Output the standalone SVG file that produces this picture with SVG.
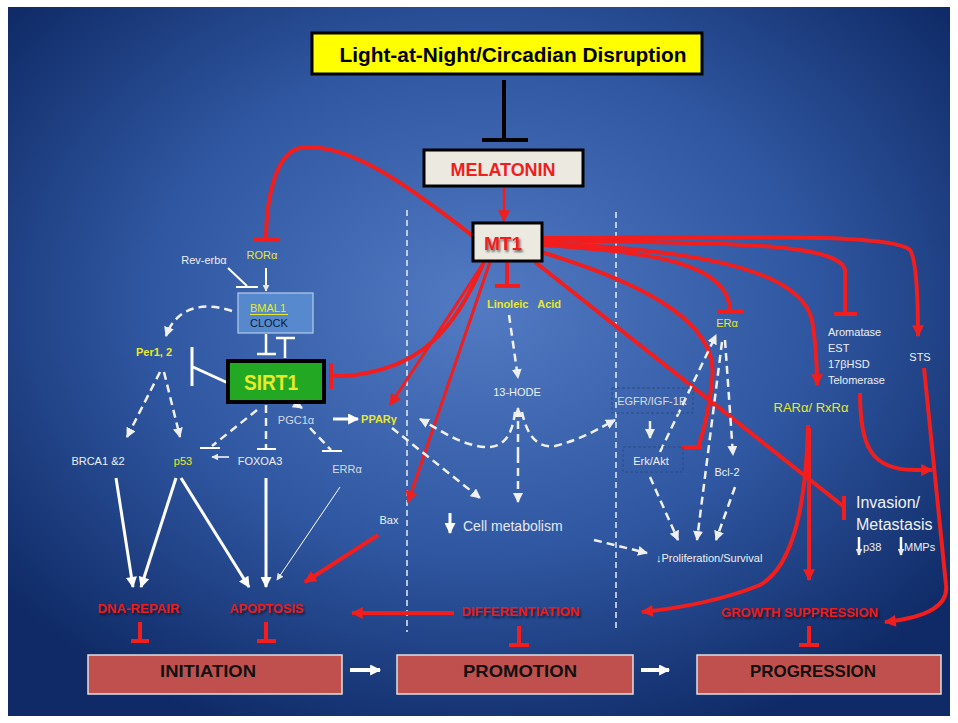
<svg xmlns="http://www.w3.org/2000/svg" width="958" height="723" viewBox="0 0 958 723">
<defs>
<radialGradient id="bg" cx="50%" cy="42%" r="65%">
<stop offset="0" stop-color="#527bc4"/>
<stop offset="0.55" stop-color="#2f56a0"/>
<stop offset="1" stop-color="#0f2a66"/>
</radialGradient>
<marker id="ar" viewBox="0 0 10 10" refX="9" refY="5" markerWidth="13" markerHeight="12" markerUnits="userSpaceOnUse" orient="auto"><path d="M0,0 L10,5 L0,10 z" fill="#f21d1d"/></marker>
<marker id="aw" viewBox="0 0 10 10" refX="9" refY="5" markerWidth="12" markerHeight="11" markerUnits="userSpaceOnUse" orient="auto"><path d="M0,0 L10,5 L0,10 z" fill="#ffffff"/></marker>
<marker id="awd" viewBox="0 0 10 10" refX="9" refY="5" markerWidth="10" markerHeight="10" markerUnits="userSpaceOnUse" orient="auto"><path d="M0,0 L10,5 L0,10 z" fill="#f0f0f0"/></marker>
<marker id="aws" viewBox="0 0 10 10" refX="9" refY="5" markerWidth="7" markerHeight="7" markerUnits="userSpaceOnUse" orient="auto"><path d="M0,0 L10,5 L0,10 z" fill="#e8e8e8"/></marker>
<filter id="sh" x="-10%" y="-30%" width="130%" height="180%"><feDropShadow dx="1.5" dy="2" stdDeviation="1.2" flood-color="#000" flood-opacity="0.6"/></filter>
<style>
.r{fill:none;stroke:#f21d1d;stroke-width:4}
.rt{fill:none;stroke:#f21d1d;stroke-width:3}
.tb{stroke:#f21d1d;stroke-width:4}
.w{fill:none;stroke:#ffffff;stroke-width:3}
.wt{fill:none;stroke:#ffffff;stroke-width:2}
.wd{fill:none;stroke:#f0f0f0;stroke-width:2.5;stroke-dasharray:8 5}
.sep{fill:none;stroke:#e6ecf6;stroke-width:1.5;stroke-dasharray:6 4}
.dbox{fill:none;stroke:#2b4c85;stroke-width:1;stroke-dasharray:3 2}
.t{font-family:"Liberation Sans",Arial,sans-serif}
.sm{font-size:11px;fill:#eef0f4}
.gy{font-size:11px;fill:#d6dbe6}
.yl{font-size:11px;fill:#e8e82a}
.yb{font-size:11px;fill:#e8e82a;font-weight:bold}
.lbl{font-size:13px;fill:#f21d1d;font-weight:bold}
.stage{fill:#c0504d;stroke:#e0e0e0;stroke-width:1.5}
.st{font-size:17px;font-weight:bold;fill:#111}
</style>
</defs>
<rect x="0" y="0" width="958" height="723" fill="#ffffff"/>
<rect x="8" y="7" width="942" height="709" fill="url(#bg)"/>

<g id="separators">
<line class="sep" x1="407" y1="210" x2="407" y2="632"/>
<line class="sep" x1="616" y1="212" x2="616" y2="632"/>
</g>

<g id="connectors">
<line x1="504" y1="80" x2="504" y2="140" stroke="#000" stroke-width="4"/>
<line x1="482" y1="140" x2="528" y2="140" stroke="#000" stroke-width="4"/>
<path class="rt" d="M504 188 L504 221" marker-end="url(#ar)" style="stroke-width:2.5"/>
<path class="r" d="M473 236 C420 195 350 140 300 148 C275 153 266 200 266 240"/>
<line class="tb" x1="253" y1="240" x2="280" y2="240"/>
<path class="r" d="M484 262 C455 330 420 370 345 376 L331 376"/>
<line class="tb" x1="331" y1="363" x2="331" y2="389"/>
<path class="rt" d="M484 262 Q440 330 390 405" marker-end="url(#ar)"/>
<path class="rt" d="M490 262 L408 502" marker-end="url(#ar)"/>
<path class="r" d="M507 262 L507 286"/>
<line class="tb" x1="495" y1="286" x2="520" y2="286"/>
<path class="r" d="M541 245 C660 252 728 265 730 310"/>
<line class="tb" x1="717" y1="311" x2="743" y2="311"/>
<path class="r" d="M541 240 C700 244 838 240 845 270 L845 314"/>
<line class="tb" x1="834" y1="314" x2="857" y2="314"/>
<path class="r" d="M541 238 C720 238 890 232 910 250 Q918 262 918 336" marker-end="url(#ar)"/>
<path class="r" d="M541 243 C700 250 800 270 812 320 Q817 350 817 385" marker-end="url(#ar)"/>
<path class="r" d="M541 252 C650 285 720 325 712 380 Q708 420 698 447"/>
<line class="tb" x1="682" y1="447" x2="702" y2="447"/>
<path class="r" d="M535 262 L843 506"/>
<line class="tb" x1="844" y1="496" x2="844" y2="520"/>
<path class="r" d="M378 535 L305 582" marker-end="url(#ar)"/>
<path class="r" d="M454 613 L352 613" marker-end="url(#ar)"/>
<path class="r" d="M808 425 C806 500 795 565 760 585 Q710 605 642 612" marker-end="url(#ar)"/>
<path class="r" d="M809 428 L809 580" marker-end="url(#ar)"/>
<path class="r" d="M860 393 C860 445 870 470 915 470 L932 470" marker-end="url(#ar)"/>
<path class="r" d="M924 368 L946 585 Q950 615 885 622" marker-end="url(#ar)"/>
<line class="tb" x1="140" y1="622" x2="140" y2="641"/><line class="tb" x1="131" y1="641" x2="149" y2="641"/>
<line class="tb" x1="266" y1="622" x2="266" y2="641"/><line class="tb" x1="257" y1="641" x2="276" y2="641"/>
<line class="tb" x1="519" y1="626" x2="519" y2="645"/><line class="tb" x1="509" y1="645" x2="529" y2="645"/>
<line class="tb" x1="809" y1="626" x2="809" y2="645"/><line class="tb" x1="799" y1="645" x2="819" y2="645"/>

<path class="wt" d="M266 268 L266 291" marker-end="url(#aws)"/>
<path class="wt" d="M228 268 L247 286"/><line class="wt" x1="236" y1="287" x2="258" y2="287"/>
<line class="w" x1="266" y1="334" x2="266" y2="354" style="stroke-width:2.5"/><line class="w" x1="257" y1="354" x2="276" y2="354" style="stroke-width:2.5"/>
<line class="w" x1="285" y1="338" x2="285" y2="358" style="stroke-width:2.5"/><line class="w" x1="276" y1="338" x2="295" y2="338" style="stroke-width:2.5"/>
<line class="w" x1="228" y1="383" x2="193" y2="367"/><line class="w" x1="192" y1="347" x2="192" y2="386"/>
<path class="w" d="M333 419 L358 419" marker-end="url(#aw)"/>
<path class="wt" d="M229 457 L212 457" marker-end="url(#aws)" style="stroke-width:1.5"/>
<path class="wt" d="M340 487 L277 580" marker-end="url(#aws)" style="stroke-width:1"/>
<path class="w" d="M116 478 L133 587" marker-end="url(#aw)"/>
<path class="w" d="M176 478 L141 587" marker-end="url(#aw)"/>
<path class="w" d="M181 478 L249 587" marker-end="url(#aw)"/>
<path class="w" d="M266 478 L266 587" marker-end="url(#aw)"/>
<path class="w" d="M450 513 L450 533" marker-end="url(#aw)"/>
<path class="w" d="M859 537 L859 555" marker-end="url(#aws)" style="stroke-width:2.5"/>
<path class="w" d="M901 537 L901 555" marker-end="url(#aws)" style="stroke-width:2.5"/>
<path class="w" d="M350 670 L380 670" marker-end="url(#aw)" style="stroke-width:4"/>
<path class="w" d="M641 670 L669 670" marker-end="url(#aw)" style="stroke-width:4"/>

<path class="wd" d="M232 311 C200 300 175 310 166 336" marker-end="url(#awd)"/>
<path class="wd" d="M160 372 L127 437" marker-end="url(#awd)"/>
<path class="wd" d="M164 372 L180 437" marker-end="url(#awd)"/>
<path class="wd" d="M257 410 L212 446"/><line class="wt" x1="200" y1="448" x2="220" y2="448"/>
<path class="wd" d="M266 405 L266 448"/><line class="wt" x1="257" y1="449" x2="276" y2="449"/>
<path class="wd" d="M287 398 L302 408" marker-end="url(#awd)" style="stroke-dasharray:5 3"/>
<path class="wd" d="M310 428 L331 450"/><line class="wt" x1="322" y1="451" x2="342" y2="451"/>
<path class="wd" d="M509 315 L518 378" marker-end="url(#awd)"/>
<path class="wd" d="M518 455 L518 408" marker-end="url(#awd)"/>
<path class="wd" d="M518 455 L518 502" marker-end="url(#awd)"/>
<path class="wd" d="M515 412 C512 440 500 448 485 447 C460 445 440 430 420 419" marker-end="url(#awd)"/>
<path class="wd" d="M522 412 C528 440 540 448 555 446 C580 440 600 428 615 420" marker-end="url(#awd)"/>
<path class="wd" d="M392 428 L480 498" marker-end="url(#awd)"/>
<path class="wd" d="M594 540 L647 553" marker-end="url(#awd)"/>
<path class="wd" d="M650 421 L650 438" marker-end="url(#awd)"/>
<path class="wd" d="M660 452 L716 335" marker-end="url(#awd)"/>
<path class="wd" d="M725 340 L733 455" marker-end="url(#awd)"/>
<path class="wd" d="M722 342 L697 540" marker-end="url(#awd)"/>
<path class="wd" d="M650 477 L678 540" marker-end="url(#awd)"/>
<path class="wd" d="M735 487 L716 540" marker-end="url(#awd)"/>
</g>

<g id="n-title">
<rect x="312" y="33" width="390" height="41" fill="#ffff00" stroke="#000" stroke-width="3"/>
<text class="t" x="513" y="62" text-anchor="middle" font-size="20" font-weight="bold" fill="#000" textLength="347" lengthAdjust="spacingAndGlyphs">Light-at-Night/Circadian Disruption</text>
</g>
<g id="n-melatonin">
<rect x="424" y="150" width="159" height="36" fill="#ece9e1" stroke="#000" stroke-width="3"/>
<text class="t" x="503" y="176" text-anchor="middle" font-size="18" font-weight="bold" fill="#f21d1d" textLength="105" lengthAdjust="spacingAndGlyphs">MELATONIN</text>
</g>
<g id="n-mt1">
<rect x="473" y="223" width="69" height="38" fill="#ece9e1" stroke="#000" stroke-width="3"/>
<text class="t" x="503" y="250" text-anchor="middle" font-size="19" font-weight="bold" fill="#f21d1d" textLength="38" lengthAdjust="spacingAndGlyphs" filter="url(#sh)">MT1</text>
</g>
<g id="n-rora"><text class="t yl" x="262" y="259" text-anchor="middle">RORα</text></g>
<g id="n-reverba"><text class="t sm" x="204" y="264" text-anchor="middle">Rev-erbα</text></g>
<g id="n-bmal1">
<rect x="238" y="293" width="75" height="40" fill="#5a8fd2" fill-opacity="0.85" stroke="#b8cce8" stroke-width="1.2"/>
<text class="t yl" x="250" y="312">BMAL1</text>
<line x1="250" y1="314.5" x2="288" y2="314.5" stroke="#e8e82a" stroke-width="1"/>
<text class="t" x="250" y="327" font-size="11" fill="#0b1a3e">CLOCK</text>
</g>
<g id="n-per"><text class="t yb" x="154" y="356" text-anchor="middle">Per1, 2</text></g>
<g id="n-sirt1">
<rect x="228" y="361" width="96" height="41" fill="#23a823" stroke="#000" stroke-width="4"/>
<text class="t" x="271" y="390" text-anchor="middle" font-size="22" font-weight="bold" fill="#eaea2a" textLength="54" lengthAdjust="spacingAndGlyphs">SIRT1</text>
</g>
<g id="n-pgc1a"><text class="t gy" x="296" y="424" text-anchor="middle">PGC1α</text></g>
<g id="n-ppar"><text class="t yb" x="379" y="423" text-anchor="middle" font-size="10">PPARγ</text></g>
<g id="n-brca"><text class="t sm" x="98" y="465" text-anchor="middle">BRCA1 &amp;2</text></g>
<g id="n-p53"><text class="t yl" x="183" y="465" text-anchor="middle">p53</text></g>
<g id="n-foxoa3"><text class="t sm" x="260" y="465" text-anchor="middle">FOXOA3</text></g>
<g id="n-erra"><text class="t gy" x="347" y="473" text-anchor="middle">ERRα</text></g>
<g id="n-bax"><text class="t sm" x="389" y="524" text-anchor="middle">Bax</text></g>
<g id="n-linoleic"><text class="t yb" x="524" y="308" text-anchor="middle" font-size="10" xml:space="preserve">Linoleic   Acid</text></g>
<g id="n-13hode"><text class="t sm" x="517" y="396" text-anchor="middle" font-size="10">13-HODE</text></g>
<g id="n-cellmeta"><text class="t" x="463" y="531" font-size="14" fill="#e4e8f0">Cell metabolism</text></g>
<g id="n-egfr">
<rect class="dbox" x="612" y="388" width="81" height="25"/>
<text class="t gy" x="652" y="405" text-anchor="middle" font-size="10">EGFR/IGF-1R</text>
</g>
<g id="n-erkakt">
<rect class="dbox" x="623" y="447" width="60" height="25"/>
<text class="t sm" x="651" y="465" text-anchor="middle" font-size="10">Erk/Akt</text>
</g>
<g id="n-era"><text class="t yl" x="727" y="327" text-anchor="middle">ERα</text></g>
<g id="n-bcl2"><text class="t sm" x="727" y="476" text-anchor="middle">Bcl-2</text></g>
<g id="n-prolif"><text class="t sm" x="656" y="562" font-size="12">↓Proliferation/Survival</text></g>
<g id="n-aromatase">
<text class="t sm" x="828" y="336">Aromatase</text>
<text class="t sm" x="828" y="352">EST</text>
<text class="t sm" x="828" y="368">17βHSD</text>
<text class="t sm" x="828" y="384">Telomerase</text>
</g>
<g id="n-sts"><text class="t sm" x="920" y="361" text-anchor="middle">STS</text></g>
<g id="n-rar"><text class="t" x="811" y="412" text-anchor="middle" font-size="13" fill="#e8e82a">RARα/ RxRα</text></g>
<g id="n-invasion">
<text class="t" x="856" y="508" font-size="16" fill="#f0f2f6">Invasion/</text>
<text class="t" x="856" y="530" font-size="16" fill="#f0f2f6">Metastasis</text>
<text class="t sm" x="863" y="551">p38</text>
<text class="t sm" x="904" y="551">MMPs</text>
</g>
<g id="n-dnarepair"><text class="t lbl" x="139" y="613" text-anchor="middle" textLength="82" lengthAdjust="spacingAndGlyphs" filter="url(#sh)">DNA-REPAIR</text></g>
<g id="n-apoptosis"><text class="t lbl" x="267" y="613" text-anchor="middle" textLength="74" lengthAdjust="spacingAndGlyphs" filter="url(#sh)">APOPTOSIS</text></g>
<g id="n-diff"><text class="t lbl" x="521" y="616" text-anchor="middle" textLength="118" lengthAdjust="spacingAndGlyphs" filter="url(#sh)">DIFFERENTIATION</text></g>
<g id="n-growth"><text class="t lbl" x="800" y="617" text-anchor="middle" textLength="157" lengthAdjust="spacingAndGlyphs" filter="url(#sh)">GROWTH SUPPRESSION</text></g>
<g id="n-initiation">
<rect class="stage" x="88" y="655" width="254" height="39"/>
<text class="t st" x="208" y="677" text-anchor="middle" textLength="96" lengthAdjust="spacingAndGlyphs">INITIATION</text>
</g>
<g id="n-promotion">
<rect class="stage" x="397" y="655" width="236" height="39"/>
<text class="t st" x="520" y="677" text-anchor="middle" textLength="114" lengthAdjust="spacingAndGlyphs">PROMOTION</text>
</g>
<g id="n-progression">
<rect class="stage" x="697" y="655" width="244" height="39"/>
<text class="t st" x="813" y="677" text-anchor="middle" textLength="126" lengthAdjust="spacingAndGlyphs">PROGRESSION</text>
</g>
</svg>
